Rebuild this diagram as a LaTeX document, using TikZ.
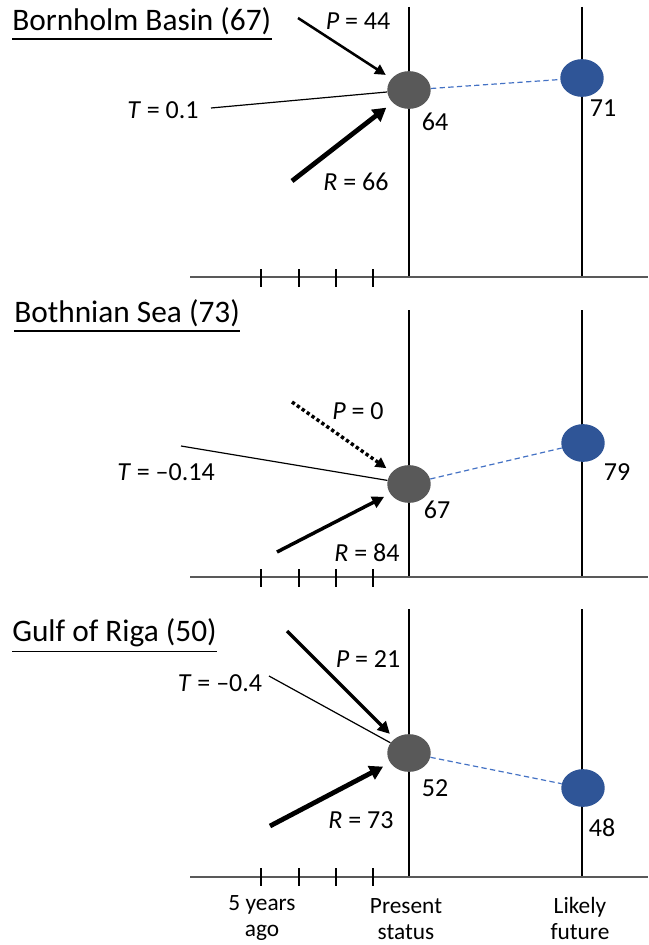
\documentclass[tikz,border=0pt]{standalone}
\usepackage{fontspec}
\setmainfont{Carlito}
\usetikzlibrary{arrows.meta,shapes.geometric}
\definecolor{dotgray}{HTML}{595959}
\definecolor{dotblue}{HTML}{2F5597}
\definecolor{dashblue}{HTML}{4472C4}
\definecolor{axisgray}{HTML}{595959}
\tikzset{
  present/.style={ellipse,fill=dotgray,minimum width=32.6pt,minimum height=28.3pt,inner sep=0pt},
  future/.style={ellipse,fill=dotblue,minimum width=32.6pt,minimum height=28.3pt,inner sep=0pt},
  vline/.style={black,line width=0.9pt},
  axisline/.style={axisgray,line width=1.5pt},
  tickline/.style={black,line width=0.9pt},
  tline/.style={black,line width=0.9pt},
  thinarrow/.style={black,line width=1.9pt,-{Triangle[length=8pt,width=8pt]},shorten >=5pt},
  thickarrow/.style={black,line width=3.6pt,-{Triangle[length=10pt,width=11pt]},shorten >=6pt},
  midarrow/.style={black,line width=2.6pt,-{Triangle[length=9pt,width=9pt]},shorten >=5pt},
  dotarrow/.style={black,line width=2.6pt,dash pattern=on 2.5pt off 2pt,-{Triangle[length=8pt,width=8pt]},shorten >=5pt},
  dashline/.style={dashblue,line width=0.9pt,dash pattern=on 4pt off 2.5pt},
  lbl/.style={font=\fontsize{19.5}{23}\selectfont,inner sep=0pt},
  ttl/.style={font=\fontsize{23.5}{28}\selectfont,inner sep=0pt,anchor=west},
  bot/.style={font=\fontsize{17.5}{19.5}\selectfont,inner sep=0pt,align=center}
}
\begin{document}
\begin{tikzpicture}[x=0.75pt,y=-0.75pt]
\useasboundingbox (0,0) rectangle (649,945);

% ---------- Panel 1 ----------
\node[ttl] (title1) at (12,21) {Bornholm Basin (67)};
\draw[black,line width=1.3pt] (title1.south west) ++(0,-3pt) coordinate (u1a) -- (u1a -| title1.south east);
\draw[vline] (409,7) -- (409,277);
\draw[vline] (582,7) -- (582,277);
\draw[axisline] (190,277) -- (648,277);
\foreach \x in {261,299,336,373} \draw[tickline] (\x,269) -- (\x,287);
\node[present] (g1) at (409,90) {};
\node[future] (b1) at (582,78) {};
\draw[dashline] (g1) -- (b1);
\coordinate (p1) at (298,18);
\coordinate (t1) at (211,108);
\coordinate (r1) at (292,181);
\draw[thinarrow] (p1) -- (g1);
\draw[tline] (t1) -- (g1);
\draw[thickarrow] (r1) -- (g1);
\node[lbl] (lp1) at (358,21) {\textit{P} = 44};
\node[lbl] (lt1) at (163,110) {\textit{T} = 0.1};
\node[lbl] (lr1) at (356,182) {\textit{R} = 66};
\node[lbl] (v1) at (435,122) {64};
\node[lbl] (f1) at (603,108) {71};

% ---------- Panel 2 ----------
\node[ttl] (title2) at (14,313) {Bothnian Sea (73)};
\draw[black,line width=1.3pt] (title2.south west) ++(0,-3pt) coordinate (u2a) -- (u2a -| title2.south east);
\draw[vline] (409,310) -- (409,577);
\draw[vline] (582,310) -- (582,577);
\draw[axisline] (190,577) -- (648,577);
\foreach \x in {261,299,336,373} \draw[tickline] (\x,569) -- (\x,587);
\node[present] (g2) at (409,484) {};
\node[future] (b2) at (583,443) {};
\draw[dashline] (g2) -- (b2);
\coordinate (p2) at (292,402);
\coordinate (t2) at (181,446);
\coordinate (r2) at (277,552);
\draw[dotarrow] (p2) -- (g2);
\draw[tline] (t2) -- (g2);
\draw[midarrow] (r2) -- (g2);
\node[lbl] (lp2) at (358,411) {\textit{P} = 0};
\node[lbl] (lt2) at (166,472) {\textit{T} = –0.14};
\node[lbl] (lr2) at (367,553) {\textit{R} = 84};
\node[lbl] (v2) at (437,510) {67};
\node[lbl] (f2) at (617,472) {79};

% ---------- Panel 3 ----------
\node[ttl] (title3) at (12,633) {Gulf of Riga (50)};
\draw[black,line width=1.3pt] (title3.south west) ++(0,-3pt) coordinate (u3a) -- (u3a -| title3.south east);
\draw[vline] (409,609) -- (409,877);
\draw[vline] (582,609) -- (582,877);
\draw[axisline] (190,877) -- (648,877);
\foreach \x in {261,299,336,373} \draw[tickline] (\x,868) -- (\x,886);
\node[present] (g3) at (409,753) {};
\node[future] (b3) at (583,788) {};
\draw[dashline] (g3) -- (b3);
\coordinate (p3) at (287,631);
\coordinate (t3) at (269,676);
\coordinate (r3) at (270,826);
\draw[midarrow] (p3) -- (g3);
\draw[tline] (t3) -- (g3);
\draw[thickarrow] (r3) -- (g3);
\node[lbl] (lp3) at (368,659) {\textit{P} = 21};
\node[lbl] (lt3) at (220,683) {\textit{T} = –0.4};
\node[lbl] (lr3) at (361,820) {\textit{R} = 73};
\node[lbl] (v3) at (435,788) {52};
\node[lbl] (f3) at (602,828) {48};

% ---------- bottom labels ----------
\node[bot] (ago) at (262,918) {5 years\\ago};
\node[bot] (pres) at (406,919) {Present\\status};
\node[bot] (fut) at (580,918) {Likely\\future};
\end{tikzpicture}
\end{document}
